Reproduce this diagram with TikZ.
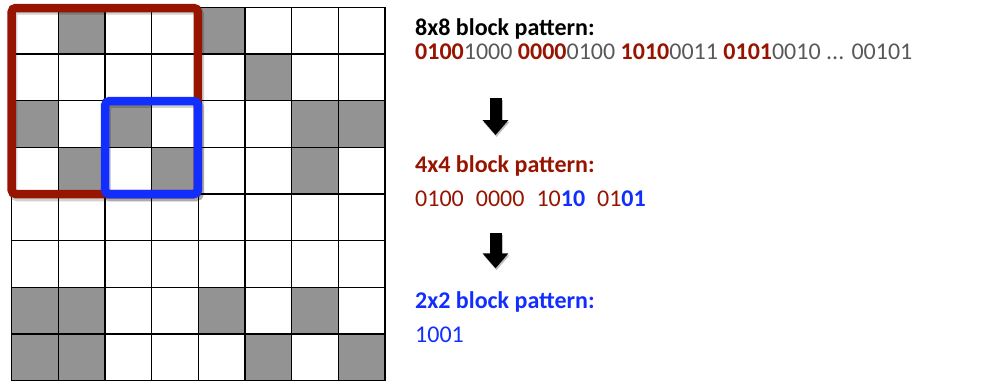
\documentclass[tikz,border=0pt]{standalone}
\usepackage{fontspec}
\setmainfont{Carlito}
\usetikzlibrary{arrows.meta}
\definecolor{dred}{RGB}{150,20,0}
\definecolor{bblue}{RGB}{18,46,255}
\definecolor{cellgray}{RGB}{147,147,147}
\definecolor{txtgray}{RGB}{89,89,89}
\begin{document}
\begin{tikzpicture}[x=1pt,y=-1pt,
  txt/.style={anchor=base west,inner sep=0pt,font=\fontsize{24}{28}\selectfont},
  gridline/.style={line width=1.5pt,black},
  cellfill/.style={fill=cellgray},
  bigarrow/.style={line width=12pt,black,-{Triangle[length=15pt,width=25pt]}},
  arrowshadow/.style={line width=12pt,black,opacity=0.25,-{Triangle[length=15pt,width=25pt]}},
  boxshadow/.style={line width=8.5pt,black,opacity=0.18,rounded corners=4pt},
  redbox/.style={line width=8.5pt,draw=dred,rounded corners=4pt},
  bluebox/.style={line width=8.5pt,draw=bblue,rounded corners=4pt}]
\useasboundingbox (0,0) rectangle (1005,381);
\def\cw{46.667}
\def\gx{11.7}
\def\gy{7.3}
% gray cells (col,row)
\foreach \c/\r in {1/0,4/0,5/1,0/2,2/2,6/2,7/2,1/3,3/3,6/3,0/6,1/6,4/6,6/6,0/7,1/7,5/7,7/7}
  \fill[cellfill] ({\gx+\cw*\c},{\gy+\cw*\r}) rectangle ({\gx+\cw*(\c+1)},{\gy+\cw*(\r+1)});
% grid
\foreach \i in {0,...,8}{
  \draw[gridline] ({\gx+\cw*\i},\gy) -- ({\gx+\cw*\i},{\gy+\cw*8});
  \draw[gridline] (\gx,{\gy+\cw*\i}) -- ({\gx+\cw*8},{\gy+\cw*\i});
}
% highlight boxes
\draw[boxshadow] (13.2,10.3) rectangle (199.8,197);
\draw[redbox] (\gx,8) rectangle (197.8,194);
\draw[boxshadow] (106.5,103.7) rectangle (199.8,197);
\draw[bluebox] (105.2,101.2) rectangle (197.8,194);
% texts
\node[txt] (h8) at (415,35) {\bfseries 8x8 block pattern:};
\node[txt] (p8) at (415,59.3) {\textcolor{dred}{\bfseries 0100}\textcolor{txtgray}{1000} \textcolor{dred}{\bfseries 0000}\textcolor{txtgray}{0100} \textcolor{dred}{\bfseries 1010}\textcolor{txtgray}{0011} \textcolor{dred}{\bfseries 0101}\textcolor{txtgray}{0010 ... 00101}};
\node[txt,text=dred] (h4) at (415,172.7) {\bfseries 4x4 block pattern:};
\node[txt,text=dred] (p4) at (415,206.7) {0100\hspace{0.5em}0000\hspace{0.5em}10\textcolor{bblue}{\bfseries 10}\hspace{0.5em}01\textcolor{bblue}{\bfseries 01}};
\node[txt,text=bblue] (h2) at (415,308.3) {\bfseries 2x2 block pattern:};
\node[txt,text=bblue] (p2) at (415,342.7) {1001};
% arrows
\coordinate (a1s) at (495.5,98);
\coordinate (a1e) at (495.5,135);
\coordinate (a2s) at (495.5,232.7);
\coordinate (a2e) at (495.5,268.3);
\draw[arrowshadow] ([shift={(1,2)}]a1s) -- ([shift={(1,2)}]a1e);
\draw[arrowshadow] ([shift={(1,2)}]a2s) -- ([shift={(1,2)}]a2e);
\draw[bigarrow] (a1s) -- (a1e);
\draw[bigarrow] (a2s) -- (a2e);
\end{tikzpicture}
\end{document}
